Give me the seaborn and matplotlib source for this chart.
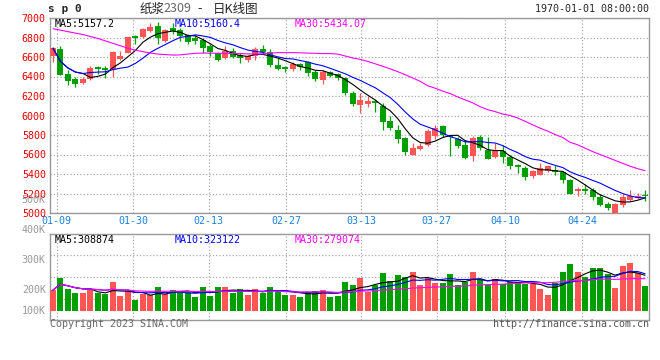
import numpy as np
import pandas as pd
import seaborn as sns
import matplotlib.pyplot as plt

# daily candles (index 0 = 01-09)
opens = [6610, 6684, 6427, 6376, 6330, 6370, 6495, 6490, 6480, 6580,
         6645, 6812, 6805, 6870, 6915, 6762, 6899, 6880, 6825, 6795,
         6770, 6710, 6645, 6585, 6660, 6620, 6567, 6615, 6684, 6653,
         6523, 6495, 6472, 6533, 6547, 6444, 6360, 6444, 6424, 6386,
         6233, 6105, 6120, 6147, 6100, 5942, 5856, 5770, 5600, 5658,
         5702, 5787, 5890, 5790, 5760, 5702, 5582, 5780, 5650, 5572,
         5634, 5572, 5490, 5463, 5384, 5394, 5429, 5445, 5422, 5343,
         5223, 5251, 5233, 5165, 5097, 5001, 5086, 5131, 5150, 5189]
highs = [6700, 6710, 6470, 6390, 6390, 6505, 6505, 6505, 6660, 6660,
         6810, 6830, 6895, 6950, 6960, 6890, 6950, 6900, 6840, 6830,
         6790, 6735, 6650, 6710, 6690, 6640, 6625, 6705, 6728, 6684,
         6590, 6510, 6545, 6540, 6557, 6470, 6465, 6460, 6440, 6390,
         6250, 6233, 6200, 6165, 6130, 6000, 5907, 5780, 5720, 5720,
         5860, 5900, 5905, 5800, 5780, 5750, 5790, 5800, 5775, 5720,
         5700, 5600, 5500, 5480, 5440, 5510, 5490, 5490, 5430, 5350,
         5270, 5300, 5260, 5190, 5110, 5100, 5190, 5240, 5210, 5240]
lows = [6550, 6415, 6310, 6290, 6320, 6360, 6430, 6380, 6400, 6570,
        6640, 6730, 6800, 6860, 6735, 6755, 6840, 6765, 6735, 6730,
        6645, 6610, 6560, 6575, 6585, 6540, 6545, 6567, 6626, 6500,
        6465, 6450, 6455, 6465, 6410, 6350, 6328, 6390, 6360, 6215,
        6100, 6027, 6090, 6033, 5856, 5856, 5720, 5600, 5595, 5650,
        5690, 5760, 5780, 5580, 5670, 5550, 5530, 5650, 5550, 5565,
        5510, 5450, 5410, 5340, 5360, 5390, 5420, 5385, 5310, 5190,
        5172, 5200, 5130, 5070, 5035, 5000, 5060, 5120, 5140, 5120]
closes = [6690, 6420, 6352, 6320, 6370, 6490, 6475, 6470, 6650, 6615,
          6805, 6798, 6890, 6910, 6790, 6880, 6865, 6815, 6755, 6765,
          6690, 6655, 6570, 6660, 6600, 6585, 6615, 6677, 6656, 6516,
          6482, 6477, 6533, 6500, 6440, 6370, 6451, 6410, 6380, 6233,
          6120, 6164, 6147, 6130, 5930, 5873, 5764, 5623, 5668, 5685,
          5839, 5873, 5805, 5775, 5692, 5565, 5770, 5668, 5555, 5641,
          5572, 5480, 5475, 5367, 5429, 5463, 5480, 5425, 5336, 5200,
          5251, 5230, 5165, 5086, 5049, 5097, 5165, 5172, 5170, 5172]
# volume in thousands
volumes = [200, 239, 203, 189, 189, 200, 189, 186, 228, 181,
           197, 167, 186, 183, 210, 186, 200, 197, 192, 178,
           210, 181, 210, 210, 189, 203, 183, 203, 191, 210,
           200, 183, 183, 178, 194, 197, 200, 178, 181, 226,
           217, 239, 194, 217, 256, 230, 250, 244, 259, 217,
           239, 222, 222, 252, 217, 228, 259, 233, 217, 237,
           219, 228, 226, 219, 219, 203, 183, 222, 259, 286,
           259, 244, 272, 272, 252, 208, 280, 289, 256, 213]
ma30_price = [6890, 6875, 6860, 6845, 6830, 6810, 6790, 6765, 6740, 6715,
              6690, 6670, 6655, 6640, 6630, 6625, 6620, 6622, 6630, 6638,
              6640, 6640, 6638, 6636, 6635, 6635, 6632, 6630, 6632, 6640,
              6645, 6645, 6645, 6643, 6640, 6638, 6635, 6635, 6630, 6610,
              6590, 6575, 6555, 6530, 6505, 6478, 6450, 6418, 6385, 6350,
              6305, 6280, 6250, 6225, 6190, 6160, 6130, 6090, 6060, 6040,
              6015, 6000, 5975, 5940, 5905, 5870, 5840, 5805, 5775, 5725,
              5700, 5665, 5630, 5600, 5570, 5540, 5510, 5480, 5455, 5434]

date_pos = [0.5, 10.7, 20.8, 31.1, 41.1, 51.2, 60.3, 70.6]
date_labels = ['01-09', '01-30', '02-13', '02-27', '03-13', '03-27', '04-10', '04-24']
price_ticks = [5000, 5200, 5400, 5600, 5800, 6000, 6200, 6400, 6600, 6800, 7000]
vol_labels = ['100K', '200K', '300K', '400K', '500K']
vol_label_at = [130, 200, 300, 400, 500]

RED = '#ff5555'
GREEN = '#009f00'
GRID = '#aaaaaa'
FRAME = '#999999'

sns.set_theme(style='white')
plt.rcParams['font.family'] = ['DejaVu Sans Mono']
plt.rcParams['font.size'] = 7.2

df = pd.DataFrame({'o': opens, 'h': highs, 'l': lows, 'c': closes, 'v': volumes})
df['i'] = np.arange(len(df))
df['ma5'] = df.c.rolling(5, min_periods=1).mean()
df['ma10'] = df.c.rolling(10, min_periods=1).mean()
df['ma30'] = ma30_price
df['vma5'] = df.v.rolling(5, min_periods=1).mean()
df['vma10'] = df.v.rolling(10, min_periods=1).mean()
df['vma30'] = df.v.rolling(30, min_periods=1).mean()
colors = np.where(df.c >= df.o, RED, GREEN)

W, H = 660, 360
fig = plt.figure(figsize=(6.6, 3.6), dpi=100)
ax = fig.add_axes([50 / W, 1 - 213 / H, 599 / W, 195 / H])
axv = fig.add_axes([50 / W, 1 - 320 / H, 599 / W, 86 / H])

# price panel
ax.vlines(df.i, df.l, df.h, colors=colors, lw=0.9, zorder=3)
body = (df.c - df.o).abs().clip(lower=8)
ax.bar(df.i, body, bottom=df[['o', 'c']].min(axis=1), width=0.8,
       color=colors, linewidth=0, zorder=3)
sns.lineplot(x=df.i, y=df.ma5, color='black', lw=0.8, ax=ax, zorder=4)
sns.lineplot(x=df.i, y=df.ma10, color='#0000ff', lw=0.8, ax=ax, zorder=4)
sns.lineplot(x=df.i, y=df.ma30, color='#ff00ff', lw=0.8, ax=ax, zorder=4)
ax.set_xlim(-0.4, 79.53)
ax.set_ylim(5000, 7000)
ax.set_yticks(price_ticks)
ax.set_xticks(date_pos)
ax.set_xticklabels(date_labels, color='#1a80e0')
ax.tick_params(axis='y', colors='#e60000', length=0, pad=3, labelsize=7.2)
ax.tick_params(axis='x', length=0, pad=2.5, labelsize=7.2)
ax.grid(True, ls=':', color=GRID, lw=0.9)
ax.set_xlabel('')
ax.set_ylabel('')

# volume panel
axv.bar(df.i, df.v - 130, bottom=130, width=0.8, color=colors, linewidth=0, zorder=3)
sns.lineplot(x=df.i, y=df.vma5, color='black', lw=0.8, ax=axv, zorder=4)
sns.lineplot(x=df.i, y=df.vma10, color='#0000ff', lw=0.8, ax=axv, zorder=4)
sns.lineplot(x=df.i, y=df.vma30, color='#ff00ff', lw=0.8, ax=axv, zorder=4)
axv.set_xlim(-0.4, 79.53)
axv.set_ylim(100, 387)
axv.set_xticks(date_pos)
axv.set_xticklabels([])
axv.set_yticks(np.linspace(100, 387, 5)[1:-1])
axv.set_yticklabels([])
axv.tick_params(length=0)
axv.grid(True, ls=':', color=GRID, lw=0.9)
axv.set_xlabel('')
axv.set_ylabel('')
for lab, val in zip(vol_labels, vol_label_at):
    axv.text(-0.007, val, lab, transform=axv.get_yaxis_transform(),
             ha='right', va='center', color='#999999', fontsize=7.2, clip_on=False)

for a in (ax, axv):
    for s in a.spines.values():
        s.set_color(FRAME)
        s.set_linewidth(1)

# header texts
def px(x, y):
    return x / W, 1 - y / H

fig.text(*px(48, 9), 's p 0', fontsize=8, fontweight='bold', va='center', ha='left')
cjk = ['Noto Sans CJK SC', 'DejaVu Sans']
fig.text(*px(140, 9), '纸浆', family=cjk, fontsize=9, va='center', ha='left')
fig.text(*px(163, 9), '2309', family=cjk, fontsize=9, color='#666666', va='center', ha='left')
fig.text(*px(200, 9), '-', family=cjk, fontsize=9, va='center', ha='center')
fig.text(*px(213, 9), '日K线图', family=cjk, fontsize=9, va='center', ha='left')
fig.text(*px(649, 9), '1970-01-01 08:00:00', va='center', ha='right')

fig.text(*px(55, 24), 'MA5:5157.2', va='center', ha='left', color='black')
fig.text(*px(175, 24), 'MA10:5160.4', va='center', ha='left', color='#0000ff')
fig.text(*px(295, 24), 'MA30:5434.07', va='center', ha='left', color='#ff00ff')
fig.text(*px(55, 240), 'MA5:308874', va='center', ha='left', color='black')
fig.text(*px(175, 240), 'MA10:323122', va='center', ha='left', color='#0000ff')
fig.text(*px(295, 240), 'MA30:279074', va='center', ha='left', color='#ff00ff')

fig.text(*px(50, 324), 'Copyright 2023 SINA.COM', va='center', ha='left', color='#666666')
fig.text(*px(649, 324), 'http://finance.sina.com.cn', va='center', ha='right', color='#555555')

fig.savefig('out.png', dpi=100, facecolor='white')
